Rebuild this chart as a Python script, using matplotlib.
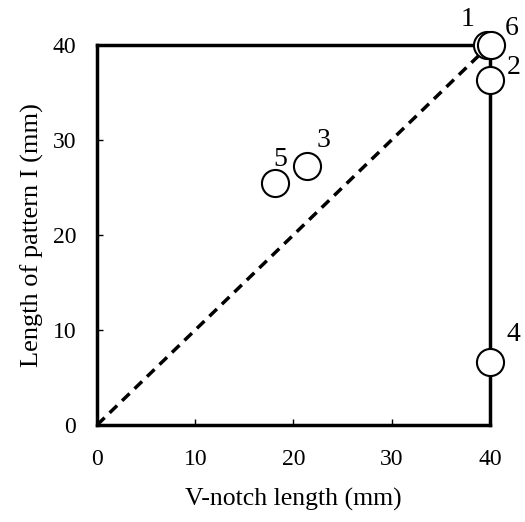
import matplotlib
matplotlib.use('Agg')
import matplotlib.pyplot as plt

plt.rcParams['font.family'] = ['Liberation Serif', 'DejaVu Serif']

# specimen points: V-notch length vs length of pattern I
labels = ['1', '2', '3', '4', '5', '6']
vnotch = [39.7, 40.0, 21.4, 40.0, 18.1, 40.1]
pattern = [40.0, 36.3, 27.2, 6.6, 25.5, 40.0]
# where each number sits relative to its circle (points)
offsets = [(-14, 18), (17, 9), (12, 19), (17, 20), (4, 17), (15, 12)]

ticks = [0, 10, 20, 30, 40]

fig = plt.figure(figsize=(5.25, 5.22), dpi=100)
ax = fig.add_axes([0.185, 0.186, 0.748, 0.728])

ax.plot([0, 40], [0, 40], color='black', lw=2.5, ls=(0, (3, 2)), zorder=2)
ax.plot(vnotch, pattern, 'o', ms=19.5, mfc='white', mec='black', mew=1.5,
        clip_on=False, zorder=5)

for lab, x, y, off in zip(labels, vnotch, pattern, offsets):
    ax.annotate(lab, (x, y), xytext=off, textcoords='offset points',
                fontsize=20, ha='center', va='center', annotation_clip=False)

ax.set_xlim(0, 40)
ax.set_ylim(0, 40)
ax.set_xticks(ticks)
ax.set_yticks(ticks)
ax.tick_params(direction='in', length=4, width=1, labelsize=17)
ax.tick_params(axis='x', pad=17)
ax.tick_params(axis='y', pad=15)
for s in ax.spines.values():
    s.set_linewidth(2.5)

ax.set_xlabel('V-notch length (mm)', fontsize=18.5, labelpad=13)
ax.set_ylabel('Length of pattern I (mm)', fontsize=19, labelpad=6)

fig.savefig('out.png', dpi=100)
